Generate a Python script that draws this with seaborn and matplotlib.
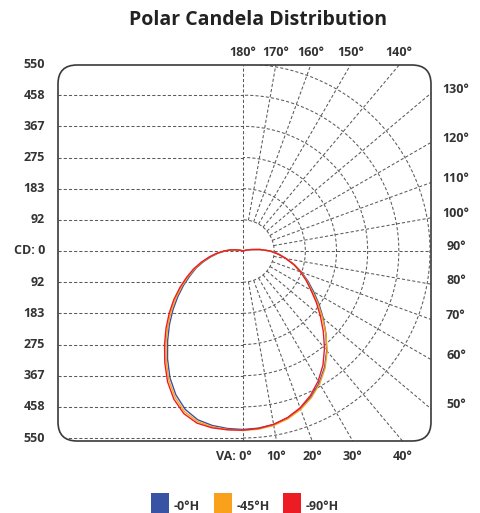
import numpy as np
import pandas as pd
import matplotlib
matplotlib.use("Agg")
import matplotlib.pyplot as plt
from matplotlib.patches import FancyBboxPatch, Rectangle
import seaborn as sns

# vertical angle in degrees, measured from straight down (nadir)
angles = [0, 5, 10, 15, 20, 25, 30, 35, 40, 45, 50, 55,
          60, 65, 70, 75, 80, 85, 90, 95, 100, 105, 110, 115]

# candela, right half (H plane) and left half (H+180)
blue_right = [525, 523, 518, 508, 493, 473, 448, 418, 383, 345, 308, 273,
              240, 211, 184, 157, 129, 105, 80, 50, 24, 9, 2, 0]
blue_left = [525, 524, 521, 514, 496, 467, 430, 387, 345, 306, 269, 234,
             202, 172, 147, 120, 95, 73, 53, 36, 20, 8, 2, 0]
orange_right = [528, 526, 521, 511, 496, 476, 451, 421, 385, 345, 305, 269,
                235, 207, 182, 156, 129, 105, 80, 50, 24, 9, 2, 0]
orange_left = [528, 527, 525, 519, 503, 474, 437, 394, 352, 313, 276, 241,
               208, 178, 151, 124, 99, 76, 55, 36, 20, 8, 2, 0]
red_right = [526, 524, 518, 507, 491, 469, 442, 410, 373, 334, 297, 263,
             231, 205, 180, 155, 128, 104, 80, 50, 24, 9, 2, 0]
red_left = [527, 528, 528, 524, 509, 481, 444, 401, 359, 320, 283, 248,
            214, 183, 155, 127, 101, 78, 56, 37, 20, 8, 2, 0]

plane_names = ["-0°H", "-45°H", "-90°H"]
plane_colors = ["#3953A4", "#F9A11B", "#ED1C24"]

cd_levels = [92, 183, 275, 367, 458, 550]
cd_max = 550
va_ticks = [0, 10, 20, 30, 40]
right_ticks = [50, 60, 70, 80, 90, 100, 110, 120, 130]
top_ticks = [140, 150, 160, 170, 180]

sns.set_theme(style="white")
plt.rcParams["font.family"] = ["Open Sans", "DejaVu Sans"]
txt_color = "#333333"


def to_xy(cd_left, cd_right):
    a = np.radians(angles)
    xl = -np.array(cd_left) * np.sin(a)
    yl = -np.array(cd_left) * np.cos(a)
    xr = np.array(cd_right) * np.sin(a)
    yr = -np.array(cd_right) * np.cos(a)
    # walk down the left half to nadir, then back up the right half
    return np.concatenate([xl[::-1], xr[1:]]), np.concatenate([yl[::-1], yr[1:]])


W, H = 480, 513
fig = plt.figure(figsize=(W / 100, H / 100), dpi=100)

# frame and pole in pixels
cx, cy = 243, 251
px_per_cd = 187 / cd_max
left, right, top, bottom = 58, 431, 65, 441
ax = fig.add_axes([left / W, 1 - bottom / H, (right - left) / W, (bottom - top) / H])
x0, x1 = -(cx - left) / px_per_cd, (right - cx) / px_per_cd
y0, y1 = -(bottom - cy) / px_per_cd, (cy - top) / px_per_cd

frame = FancyBboxPatch((x0, y0), x1 - x0, y1 - y0,
                       boxstyle="round,pad=0,rounding_size=56",
                       fc="none", ec="#3a3a3a", lw=1.2, clip_on=False, zorder=5)
ax.add_patch(frame)

grid_kw = dict(color="#5a5a5a", lw=0.75, ls=(0, (3, 2)), zorder=1)
grid_lines = []
step = cd_max / 6
for k in range(1, 7):
    v = k * step
    grid_lines += ax.plot([x0, 0], [v, v], **grid_kw)
    grid_lines += ax.plot([x0, 0], [-v, -v], **grid_kw)
    t = np.radians(np.linspace(0, 180, 361))
    grid_lines += ax.plot(v * np.sin(t), -v * np.cos(t), **grid_kw)
grid_lines += ax.plot([x0, 0], [0, 0], **grid_kw)
grid_lines += ax.plot([0, 0], [y0, y1], **grid_kw)
for th in range(10, 180, 10):
    a = np.radians(th)
    grid_lines += ax.plot([step * np.sin(a), 3000 * np.sin(a)],
                          [-step * np.cos(a), -3000 * np.cos(a)], **grid_kw)
for ln in grid_lines:
    ln.set_clip_path(frame)

# candela curves
parts = []
for name, l, r in zip(plane_names, [blue_left, orange_left, red_left],
                      [blue_right, orange_right, red_right]):
    x, y = to_xy(l, r)
    parts.append(pd.DataFrame({"x": x, "y": y, "plane": name}))
df = pd.concat(parts, ignore_index=True)
sns.lineplot(data=df, x="x", y="y", hue="plane", palette=plane_colors,
             sort=False, estimator=None, lw=1.0, legend=False, ax=ax, zorder=3)

ax.set_xlim(x0, x1)
ax.set_ylim(y0, y1)
ax.axis("off")

lab_kw = dict(textcoords="offset pixels", fontsize=9, fontweight="bold",
              color=txt_color, annotation_clip=False)

# candela labels on the left
for k in range(6, -7, -1):
    label = "CD: 0" if k == 0 else str(cd_levels[abs(k) - 1])
    ax.annotate(label, xy=(x0, k * step), xytext=(-13, 0), ha="right", va="center", **lab_kw)

# angle labels where the radial lines meet the frame
for th in top_ticks:
    a = np.radians(180 - th)
    ax.annotate(f"{th}°", xy=(y1 * np.tan(a), y1), xytext=(0, 13), ha="center", va="center", **lab_kw)
for th in right_ticks:
    a = np.radians(th)
    ax.annotate(f"{th}°", xy=(x1, -x1 * np.cos(a) / np.sin(a)), xytext=(25, 4),
                ha="center", va="center", **lab_kw)
for th in va_ticks:
    a = np.radians(th)
    if th == 0:
        ax.annotate("VA: 0°", xy=(0, y0), xytext=(9, -15), ha="right", va="center", **lab_kw)
    else:
        ax.annotate(f"{th}°", xy=(-y0 * np.tan(a), y0), xytext=(0, -15), ha="center", va="center", **lab_kw)

fig.text(258 / W, 1 - 20 / H, "Polar Candela Distribution", ha="center", va="center",
         fontsize=14, fontweight="bold", color="#222222")

# legend
legend_x = [151, 214, 283]
for lx, name, col in zip(legend_x, plane_names, plane_colors):
    fig.add_artist(Rectangle((lx / W, 0), 18 / W, 20 / H, transform=fig.transFigure,
                             color=col, lw=0))
    fig.text((lx + 23) / W, 1 - 506 / H, name, ha="left", va="center",
             fontsize=9, fontweight="bold", color=txt_color)

fig.savefig("out.png", dpi=100)
